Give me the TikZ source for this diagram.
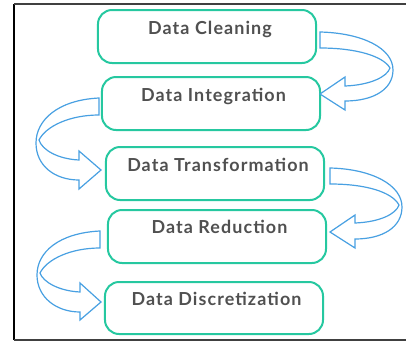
\documentclass[tikz,border=0pt]{standalone}
\usepackage{fontspec}
\setmainfont{Lato}
\newfontfamily\stagefont[LetterSpace=6]{Lato}
\definecolor{boxteal}{RGB}{38,200,160}
\definecolor{ribbonblue}{RGB}{72,160,226}
\definecolor{labelgray}{RGB}{80,80,80}
\begin{document}
\begin{tikzpicture}[x=1bp,y=-1bp,
  stagebox/.style={draw=boxteal,line width=2bp,rounded corners=14bp,
    minimum width=218bp,minimum height=53bp,inner sep=0pt},
  stagelabel/.style={anchor=base,text=labelgray,inner sep=0pt,
    font=\stagefont\fontsize{18}{21}\selectfont\bfseries},
  ribbon/.style={draw=ribbonblue,line width=1.2bp,line join=miter,fill=white}]
\useasboundingbox (0,0) rectangle (406,341);
% frame
\draw[line width=1.6bp,black] (14,340) -- (14,4);
\draw[line width=1.6bp,black!75] (14,4) -- (406,4);
\draw[line width=1.6bp,black!75] (14,340) -- (406,340);

% process stages
\node[stagebox] (b1) at (207,36.5) {};
\node[stagebox] (b2) at (211,103.5) {};
\node[stagebox] (b3) at (215,173.5) {};
\node[stagebox] (b4) at (217,236.5) {};
\node[stagebox,minimum height=52bp] (b5) at (214,308) {};

\node[stagelabel] (t1) at (210,34) {Data Cleaning};
\node[stagelabel] (t2) at (213.5,101.5) {Data Integration};
\node[stagelabel] (t3) at (218,171) {Data Transformation};
\node[stagelabel] (t4) at (219.5,233) {Data Reduction};
\node[stagelabel] (t5) at (216.5,305) {Data Discretization};

% curved ribbon arrows between stages
% right: cleaning -> integration
\draw[ribbon] (320,32) .. controls (362,33) and (393,48) .. (393,70)
  .. controls (393,89) and (374,101) .. (345,101)
  -- (345,110) -- (320,94) -- (345,77) -- (345,86)
  .. controls (370,85) and (387,77) .. (390,68)
  .. controls (383,56) and (356,48) .. (320,48) -- cycle;
% left: integration -> transformation
\draw[ribbon] (99,98) .. controls (58,100) and (36,120) .. (36,143)
  .. controls (36,166) and (55,180) .. (79,180)
  -- (79,189) -- (101,170) -- (79,151) -- (79,160)
  .. controls (58,159) and (42,150) .. (39,140)
  .. controls (46,126) and (70,115) .. (99,115) -- cycle;
% right: transformation -> reduction
\draw[ribbon] (330,168) .. controls (372,169) and (402,185) .. (402,207)
  .. controls (402,227) and (383,239) .. (355,239)
  -- (355,248) -- (330,232) -- (355,215) -- (355,223)
  .. controls (380,222) and (396,214) .. (399,205)
  .. controls (392,192) and (366,184) .. (330,184) -- cycle;
% left: reduction -> discretization
\draw[ribbon] (100,231) .. controls (59,233) and (37,252) .. (37,275)
  .. controls (37,297) and (56,312) .. (80,312)
  -- (80,320) -- (101,302) -- (80,283) -- (80,292)
  .. controls (59,291) and (43,282) .. (40,273)
  .. controls (47,259) and (71,248) .. (100,248) -- cycle;
\end{tikzpicture}
\end{document}
